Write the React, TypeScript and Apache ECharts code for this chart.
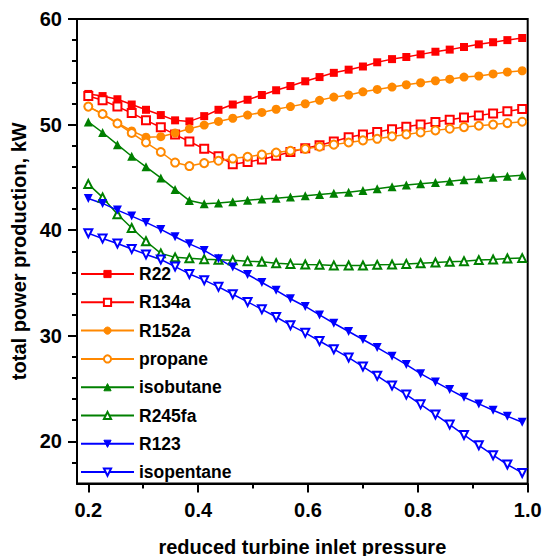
import React, { useEffect, useRef } from 'react';
import * as echarts from 'echarts';

// reduced turbine inlet pressure (x) for each computed point
const xValues = [
  0.200, 0.226, 0.253, 0.279, 0.305, 0.332, 0.358, 0.384, 0.411, 0.437,
  0.463, 0.490, 0.516, 0.542, 0.568, 0.595, 0.621, 0.647, 0.674, 0.700,
  0.726, 0.753, 0.779, 0.805, 0.832, 0.858, 0.884, 0.911, 0.937, 0.963, 0.990,
];

const r22 = [52.9, 52.7, 52.4, 51.9, 51.4, 50.9, 50.4, 50.3, 50.8, 51.4, 51.9, 52.35, 52.8, 53.25, 53.65, 54.1, 54.5, 54.9, 55.2, 55.5, 55.9, 56.2, 56.4, 56.65, 56.9, 57.1, 57.35, 57.6, 57.8, 58.0, 58.2];
const r134a = [52.7, 52.3, 51.7, 51.1, 50.4, 49.75, 49.05, 48.4, 47.7, 47.0, 46.25, 46.45, 46.7, 47.05, 47.4, 47.75, 48.05, 48.4, 48.8, 49.05, 49.3, 49.55, 49.8, 50.0, 50.24, 50.45, 50.68, 50.87, 51.06, 51.25, 51.47];
const r152a = [51.7, 51.0, 50.15, 49.4, 48.8, 48.85, 49.2, 49.6, 49.95, 50.3, 50.6, 50.9, 51.15, 51.45, 51.7, 51.97, 52.3, 52.6, 52.8, 53.1, 53.33, 53.55, 53.77, 53.96, 54.15, 54.3, 54.5, 54.6, 54.8, 54.98, 55.1];
const propane = [51.7, 51.0, 50.1, 49.2, 48.3, 47.4, 46.4, 46.07, 46.35, 46.57, 46.78, 46.95, 47.15, 47.35, 47.52, 47.7, 47.9, 48.1, 48.3, 48.5, 48.65, 48.88, 49.07, 49.26, 49.45, 49.6, 49.76, 49.89, 50.0, 50.14, 50.27];
const isobutane = [50.25, 49.25, 48.1, 47.0, 46.0, 44.95, 43.86, 42.8, 42.5, 42.58, 42.7, 42.82, 42.95, 43.03, 43.13, 43.25, 43.38, 43.5, 43.6, 43.75, 43.92, 44.1, 44.27, 44.4, 44.52, 44.64, 44.77, 44.86, 45.0, 45.1, 45.2];
const r245fa = [44.36, 43.1, 41.5, 40.2, 38.95, 37.8, 37.42, 37.33, 37.25, 37.2, 37.15, 37.06, 37.0, 36.87, 36.8, 36.75, 36.71, 36.66, 36.65, 36.65, 36.71, 36.75, 36.8, 36.87, 36.94, 37.0, 37.06, 37.16, 37.22, 37.32, 37.35];
const r123 = [43.0, 42.53, 41.9, 41.33, 40.73, 40.07, 39.37, 38.7, 38.08, 37.3, 36.5, 35.8, 35.04, 34.3, 33.5, 32.77, 31.97, 31.18, 30.4, 29.64, 28.88, 28.06, 27.27, 26.4, 25.62, 24.9, 24.17, 23.54, 22.94, 22.37, 21.8];
const isopentane = [39.7, 39.2, 38.74, 38.22, 37.7, 37.22, 36.55, 35.85, 35.26, 34.63, 33.93, 33.2, 32.5, 31.77, 31.0, 30.27, 29.5, 28.72, 27.93, 27.08, 26.2, 25.28, 24.42, 23.5, 22.53, 21.58, 20.6, 19.62, 18.68, 17.8, 17.0];

const seriesNames = ['R22', 'R134a', 'R152a', 'propane', 'isobutane', 'R245fa', 'R123', 'isopentane'];
const seriesValues = [r22, r134a, r152a, propane, isobutane, r245fa, r123, isopentane];
const seriesColors = ['#ff0000', '#ff0000', '#ff8800', '#ff8800', '#008000', '#008000', '#0000ff', '#0000ff'];
const seriesSymbols = ['rect', 'emptyRect', 'circle', 'emptyCircle', 'triangle', 'emptyTriangle', 'triangle', 'emptyTriangle'];
const seriesRotations = [0, 0, 0, 0, 0, 0, 180, 180];

const xMajorTicks = [0.2, 0.4, 0.6, 0.8, 1.0];
const xMinorTicks = [0.3, 0.5, 0.7, 0.9];
const yMajorTicks = [20, 30, 40, 50, 60];
const yMinorTicks = [18, 22, 24, 26, 28, 32, 34, 36, 38, 42, 44, 46, 48, 52, 54, 56, 58];

const xTitle = 'reduced turbine inlet pressure';
const yTitle = 'total power production, kW';

const FONT = "'Liberation Sans', Arial, sans-serif";

export default function App() {
  const ref = useRef<HTMLDivElement>(null);

  useEffect(() => {
    if (!ref.current) return;
    const chart = echarts.init(ref.current, null, { renderer: 'svg' });
    const xMin = 0.1794;
    const xMax = 1.0;
    const yMin = 16;
    const yMax = 60;
    const bigText = { color: '#000', fontFamily: FONT, fontWeight: 'bold' as const, fontSize: 20 };
    const legendText = { color: '#000', fontFamily: FONT, fontWeight: 'bold' as const, fontSize: 17.5 };

    const series: any[] = seriesNames.map((name, k) => {
      const empty = seriesSymbols[k].startsWith('empty');
      return {
        name,
        type: 'line',
        data: xValues.map((x, i) => [x, seriesValues[k][i]]),
        symbol: seriesSymbols[k],
        symbolSize: empty ? 8 : (seriesSymbols[k] === 'rect' ? 8 : 9),
        symbolRotate: seriesRotations[k],
        showAllSymbol: true,
        lineStyle: { color: seriesColors[k], width: 1.5 },
        itemStyle: { color: seriesColors[k], borderColor: seriesColors[k], borderWidth: empty ? 1.5 : 0 },
        emphasis: { disabled: true },
        xAxisIndex: 0,
        yAxisIndex: 0,
      };
    });

    chart.setOption({
      animation: false,
      grid: {
        left: 77, top: 19, right: 15.3, bottom: 72.5,
        containLabel: false,
        outerBoundsMode: 'none',
        show: true, borderColor: '#000', borderWidth: 2, backgroundColor: 'transparent',
      },
      legend: {
        orient: 'vertical',
        left: 80,
        top: 265,
        padding: 0,
        itemWidth: 53,
        itemHeight: 9,
        itemGap: 10.3,
        data: seriesNames,
        itemStyle: { borderWidth: 1 },
        textStyle: { ...legendText, lineHeight: 17.5 },
      },
      xAxis: [
        {
          type: 'value', min: xMin, max: xMax,
          name: xTitle, nameLocation: 'middle', nameGap: 53,
          nameTextStyle: bigText,
          axisLine: { show: true, onZero: false, lineStyle: { color: '#000', width: 2 } },
          axisTick: { show: true, inside: false, length: 9, customValues: xMajorTicks, lineStyle: { color: '#000', width: 2 } },
          axisLabel: { customValues: xMajorTicks, margin: 16, ...bigText, formatter: (v: number) => v.toFixed(1) },
          splitLine: { show: false },
        },
        {
          type: 'value', min: xMin, max: xMax, position: 'bottom',
          axisLine: { show: false },
          axisTick: { show: true, inside: false, length: 5, customValues: xMinorTicks, lineStyle: { color: '#000', width: 2 } },
          axisLabel: { show: false },
          splitLine: { show: false },
        },
      ],
      yAxis: [
        {
          type: 'value', min: yMin, max: yMax,
          name: yTitle, nameLocation: 'middle', nameGap: 45,
          nameTextStyle: bigText,
          axisLine: { show: true, onZero: false, lineStyle: { color: '#000', width: 2 } },
          axisTick: { show: true, inside: false, length: 9, customValues: yMajorTicks, lineStyle: { color: '#000', width: 2 } },
          axisLabel: { customValues: yMajorTicks, margin: 15, ...bigText },
          splitLine: { show: false },
        },
        {
          type: 'value', min: yMin, max: yMax, position: 'left',
          axisLine: { show: false },
          axisTick: { show: true, inside: false, length: 5, customValues: yMinorTicks, lineStyle: { color: '#000', width: 2 } },
          axisLabel: { show: false },
          splitLine: { show: false },
        },
      ],
      series,
    });
    return () => chart.dispose();
  }, []);

  return (
    <div
      ref={ref}
      style={{ position: 'fixed', left: 0, top: 0, width: 543, height: 556, background: '#fff' }}
    />
  );
}
